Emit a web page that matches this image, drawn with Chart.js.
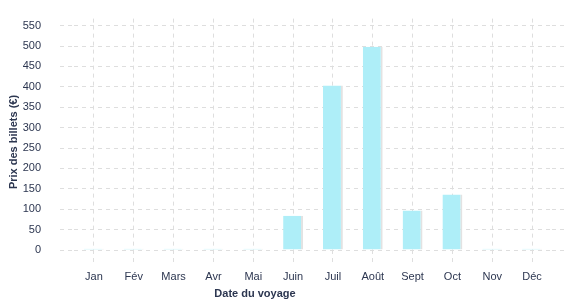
<!DOCTYPE html>
<html>
<head>
<meta charset="utf-8">
<script src="https://cdn.jsdelivr.net/npm/chart.js@4"></script>
<style>
    body { margin: 0; background: #fff; }
    #wrap { width: 577px; height: 300px; }
</style>
</head>
<body>
<div id="wrap"><canvas id="chart"></canvas></div>
<script>
const months = ['Jan', 'Fév', 'Mars', 'Avr', 'Mai', 'Juin', 'Juil', 'Août', 'Sept', 'Oct', 'Nov', 'Déc'];
const prices = [3, 3, 3, 3, 3, 84, 403, 498, 97, 136, 3, 3];
const xTitle = 'Date du voyage';
const yTitle = 'Prix des billets (€)';

const textColor = '#2c3650';
const gridColor = '#dedede';
const font = { family: '"Liberation Sans", Arial, sans-serif', size: 11 };

// titres des axes, placés à la main comme sur l'original
const axisTitles = {
    id: 'axisTitles',
    afterDraw(chart) {
        const ctx = chart.ctx;
        ctx.save();
        ctx.fillStyle = textColor;
        ctx.textAlign = 'center';
        ctx.textBaseline = 'middle';
        ctx.font = 'bold 11px "Liberation Sans", Arial, sans-serif';
        ctx.fillText(xTitle, 255, 294);
        ctx.translate(14, 142);
        ctx.rotate(-Math.PI / 2);
        ctx.font = 'bold 11px "Liberation Sans", Arial, sans-serif';
        ctx.fillText(yTitle, 0, 0);
        ctx.restore();
    }
};

const grid = (len) => ({
    color: gridColor,
    tickBorderDash: [4, 4],
    tickLength: len
});
const border = { display: false, dash: [4, 4] };

new Chart(document.getElementById('chart'), {
    type: 'bar',
    data: {
        labels: months,
        datasets: [{
            data: prices,
            backgroundColor: '#aeeef8',
            borderColor: '#e2e2e2',
            borderWidth: { top: 0, right: 2, bottom: 0, left: 0 },
            borderSkipped: false,
            categoryPercentage: 1,
            barPercentage: 0.5
        }]
    },
    options: {
        responsive: true,
        maintainAspectRatio: false,
        animation: false,
        layout: { padding: { left: 23, right: 10, top: 0, bottom: 17 } },
        plugins: {
            legend: { display: false },
            tooltip: { enabled: false }
        },
        scales: {
            x: {
                offset: true,
                grid: { ...grid(14), offset: false },
                border: border,
                ticks: { color: textColor, font: font, padding: 6, maxRotation: 0 },
                afterFit(scale) { scale.height = 33; }
            },
            x2: {
                position: 'top',
                offset: true,
                grid: { ...grid(7), offset: false, drawOnChartArea: false },
                border: border,
                ticks: { display: false },
                afterFit(scale) { scale.height = 7; }
            },
            y: {
                min: 0,
                max: 550,
                grid: grid(14),
                border: border,
                ticks: { stepSize: 50, color: textColor, font: font, padding: 19 },
                afterFit(scale) { scale.width = 51; }
            },
            y2: {
                position: 'right',
                min: 0,
                max: 550,
                grid: { ...grid(15), drawOnChartArea: false },
                border: border,
                ticks: { stepSize: 50, display: false },
                afterFit(scale) { scale.width = 15; }
            }
        }
    },
    plugins: [axisTitles]
});
</script>
</body>
</html>
